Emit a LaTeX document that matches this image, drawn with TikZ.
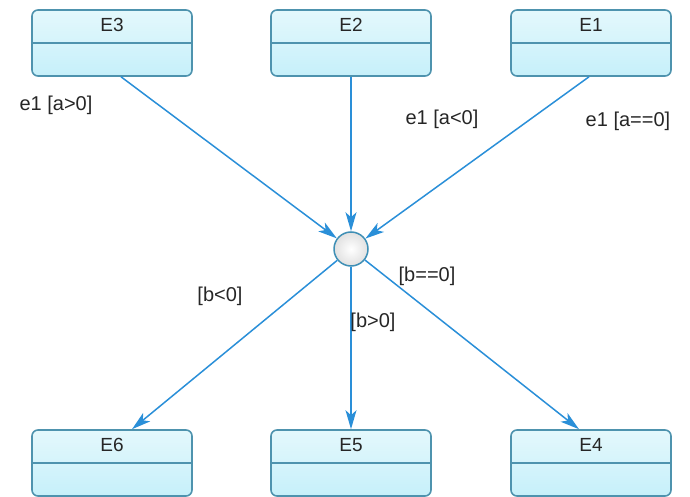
\documentclass[tikz,border=0pt]{standalone}
\usepackage{fontspec}
\setmainfont{Liberation Sans}
\usetikzlibrary{arrows.meta}
\definecolor{stateline}{HTML}{4E93AE}
\definecolor{statetop}{HTML}{E4F8FC}
\definecolor{statebot}{HTML}{C6F0FA}
\definecolor{flow}{HTML}{2A8FD8}
\definecolor{junctline}{HTML}{3F8FB5}
\tikzset{
  statebox/.style={draw=stateline, line width=1.6pt, rounded corners=6pt,
    top color=statetop, bottom color=statebot,
    minimum width=160pt, minimum height=66pt, inner sep=0pt},
  junction/.style={circle, draw=junctline, line width=1.5pt,
    inner color=white, outer color=black!12, minimum size=34pt, inner sep=0pt},
  flowline/.style={draw=flow, line width=1.5pt,
    -{Stealth[length=19pt, width=11pt, inset=5pt]}},
  guard/.style={font=\fontsize{20}{23}\selectfont, text=black!85, inner sep=1pt},
  title/.style={font=\fontsize{19}{22}\selectfont, text=black!85}
}
\begin{document}
\begin{tikzpicture}[x=1pt, y=-1pt]
  \useasboundingbox (0,0) rectangle (690,497);
  % states
  \foreach \n/\cx/\cy in {E3/112/43, E2/351/43, E1/591/43, E6/112/463, E5/351/463, E4/591/463} {
    \node[statebox] (\n) at (\cx,\cy) {};
    \draw[stateline, line width=1.6pt] (\cx-80,\cy) -- (\cx+80,\cy);
    \node[title] (\n-t) at (\cx,\cy-18) {\n};
  }
  % junction
  \node[junction] (J) at (351,249) {};
  % incoming transitions
  \draw[flowline] ([xshift=9pt]E3.south) -- (J);
  \draw[flowline] (E2.south) -- (J);
  \draw[flowline] ([xshift=-2pt]E1.south) -- (J);
  % outgoing transitions
  \draw[flowline] (J) -- ([xshift=20pt]E6.north);
  \draw[flowline] (J) -- (E5.north);
  \draw[flowline] (J) -- ([xshift=-12pt]E4.north);
  % guards
  \node[guard] (g1) at (56,105) {e1 [a>0]};
  \node[guard] (g2) at (442,119) {e1 [a<0]};
  \node[guard] (g3) at (628,121) {e1 [a==0]};
  \node[guard] (g4) at (220,296) {[b<0]};
  \node[guard] (g5) at (373,322) {[b>0]};
  \node[guard] (g6) at (427,276) {[b==0]};
\end{tikzpicture}
\end{document}
